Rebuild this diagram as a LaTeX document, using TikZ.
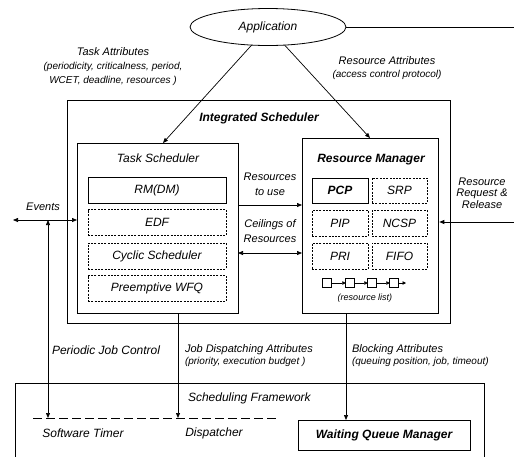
\documentclass[tikz,border=0pt]{standalone}
\usepackage{fontspec}
\setmainfont{Liberation Sans}
\usetikzlibrary{arrows.meta,shapes.geometric,shadows}
\begin{document}
\begin{tikzpicture}[x=1pt,y=-1pt,
  every node/.style={inner sep=0pt,outer sep=0pt},
  lbl/.style={font=\fontsize{12}{14}\selectfont\itshape,align=center},
  blbl/.style={font=\fontsize{12}{14}\selectfont\bfseries\itshape,align=center},
  alb/.style={font=\fontsize{11}{13}\selectfont\itshape,align=center},
  sml/.style={font=\fontsize{10}{12}\selectfont\itshape,align=center},
  mid/.style={font=\fontsize{11}{15}\selectfont\itshape,align=center},
  frame/.style={draw,line width=0.8pt},
  sbox/.style={draw,line width=0.8pt,fill=white,
     drop shadow={shadow xshift=1.3pt,shadow yshift=-1.3pt,fill=black,opacity=1}},
  dbox/.style={draw,line width=0.6pt,dash pattern=on 2pt off 1.3pt},
  con/.style={line width=0.7pt},
  tip/.style={-{Triangle[length=5pt,width=4pt]}},
  btip/.style={{Triangle[length=5pt,width=4pt]}-{Triangle[length=5pt,width=4pt]}},
  stip/.style={-{Triangle[length=3.5pt,width=3.5pt]}}
]
\useasboundingbox (0,0) rectangle (514,456);
\fill[white] (0,0) rectangle (514,456);
\clip (0,0) rectangle (514,456);

% application
\node[draw,line width=0.8pt,ellipse,minimum width=156pt,minimum height=37pt,lbl] (app) at (268,27) {Application};
\coordinate (appR) at (514,27);
\draw[con] (app.east) -- (appR);

% attribute labels
\node[sml,font=\fontsize{10}{14}\selectfont\itshape] (tattr) at (113,67)
  {{\fontsize{11}{14}\selectfont Task Attributes}\\(periodicity, criticalness, period,\\WCET, deadline, resources )};
\node[sml,font=\fontsize{10}{13}\selectfont\itshape] (rattr) at (387,68.5)
  {{\fontsize{11}{13}\selectfont Resource Attributes}\\(access control protocol)};

% integrated scheduler
\node[frame,minimum width=383pt,minimum height=223pt] (is) at (258.5,211.5) {};
\node[blbl] (isl) at (259,118) {Integrated Scheduler};

% task scheduler
\node[sbox,minimum width=161pt,minimum height=170pt] (ts) at (157.5,228) {};
\node[lbl] (tsl) at (158,158) {Task Scheduler};
\node[sbox,minimum width=138pt,minimum height=26pt,lbl] (rmdm) at (157,190) {RM(DM)};
\node[dbox,minimum width=138pt,minimum height=26pt,lbl] (edf) at (157,222.5) {EDF};
\node[dbox,minimum width=138pt,minimum height=26pt,lbl] (cyc) at (157,256) {Cyclic Scheduler};
\node[dbox,minimum width=138pt,minimum height=26pt,lbl] (wfq) at (157,288.5) {Preemptive WFQ};

% resource manager
\node[sbox,minimum width=136pt,minimum height=175pt] (rm) at (370,225.5) {};
\node[blbl] (rml) at (371,160) {Resource Manager};
\node[sbox,minimum width=56pt,minimum height=25pt,blbl] (pcp) at (340,190.5) {PCP};
\node[dbox,minimum width=55pt,minimum height=25pt,lbl] (srp) at (399.5,190.5) {SRP};
\node[dbox,minimum width=56pt,minimum height=26pt,lbl] (pip) at (340,223.5) {PIP};
\node[dbox,minimum width=55pt,minimum height=26pt,lbl] (ncsp) at (399.5,223.5) {NCSP};
\node[dbox,minimum width=56pt,minimum height=26pt,lbl] (pri) at (340,256) {PRI};
\node[dbox,minimum width=55pt,minimum height=26pt,lbl] (fifo) at (399.5,256) {FIFO};

% resource list
\node[draw,line width=0.6pt,minimum size=8.5pt] (q1) at (327,283) {};
\node[draw,line width=0.6pt,minimum size=8.5pt] (q2) at (350,283) {};
\node[draw,line width=0.6pt,minimum size=8.5pt] (q3) at (372,283) {};
\node[draw,line width=0.6pt,minimum size=8.5pt] (q4) at (394,283) {};
\coordinate (qend) at (406,283);
\draw[con,stip] (q1) -- (q2);
\draw[con,stip] (q2) -- (q3);
\draw[con,stip] (q3) -- (q4);
\draw[con,stip] (q4) -- (qend);
\node[font=\fontsize{9}{11}\selectfont\itshape] (rlist) at (365,298) {(resource list)};

% application arrows
\draw[con,tip] (app) -- ([xshift=5.5pt]ts.north);
\draw[con,tip] (app) -- (rm.north);

% between schedulers
\node[mid] (r2u) at (270,184) {Resources\\to use};
\node[mid] (ceil) at (270,231) {Ceilings of\\Resources};
\coordinate (y1) at (270,205);
\coordinate (y2) at (270,253);
\draw[con,tip] (ts.east |- y1) -- (rm.west |- y1);
\draw[con,btip] (ts.east |- y2) -- (rm.west |- y2);

% resource request
\node[mid,font=\fontsize{11}{11.5}\selectfont\itshape] (rrq) at (482,193) {Resource\\Request \&\\Release};
\coordinate (rrR) at (514,222);
\draw[con,tip] (rrR) -- ([xshift=1.3pt]rm.east |- rrR);

% events
\node[alb] (ev) at (43,207) {Events};
\coordinate (evL) at (13,220);
\coordinate (evJ) at (48,220);
\draw[con,btip] (evL) -- (ts.west |- evL);

% scheduling framework
\node[frame,minimum width=469pt,minimum height=100pt] (sf) at (249.5,433) {};
\node[lbl,anchor=west] (sfl) at (188,398) {Scheduling Framework};
\coordinate (dlA) at (33,418);
\coordinate (dlB) at (277,418);
\draw[line width=0.7pt,dash pattern=on 9pt off 4pt] (dlA) -- (dlB);
\node[lbl] (swt) at (83,433) {Software Timer};
\node[lbl] (disp) at (214,433) {Dispatcher};
\node[sbox,minimum width=172pt,minimum height=30pt,blbl] (wqm) at (384,435) {Waiting Queue Manager};

% vertical connectors
\draw[con,btip] (evJ) -- (evJ |- dlA);
\node[lbl,anchor=west] (pjc) at (52,350) {Periodic Job Control};
\coordinate (jd) at (178,0);
\draw[con,tip] (jd |- ts.south) -- (jd |- dlA);
\node[alb,anchor=west] (jda) at (185,350) {Job Dispatching Attributes};
\node[sml,anchor=west] (jdb) at (185,362) {(priority, execution budget )};
\coordinate (bk) at (346,0);
\draw[con,tip] (bk |- rm.south) -- (bk |- wqm.north);
\node[alb,anchor=west] (bla) at (352,350) {Blocking Attributes};
\node[sml,anchor=west] (blb) at (352,362) {(queuing position, job, timeout)};
\end{tikzpicture}
\end{document}
